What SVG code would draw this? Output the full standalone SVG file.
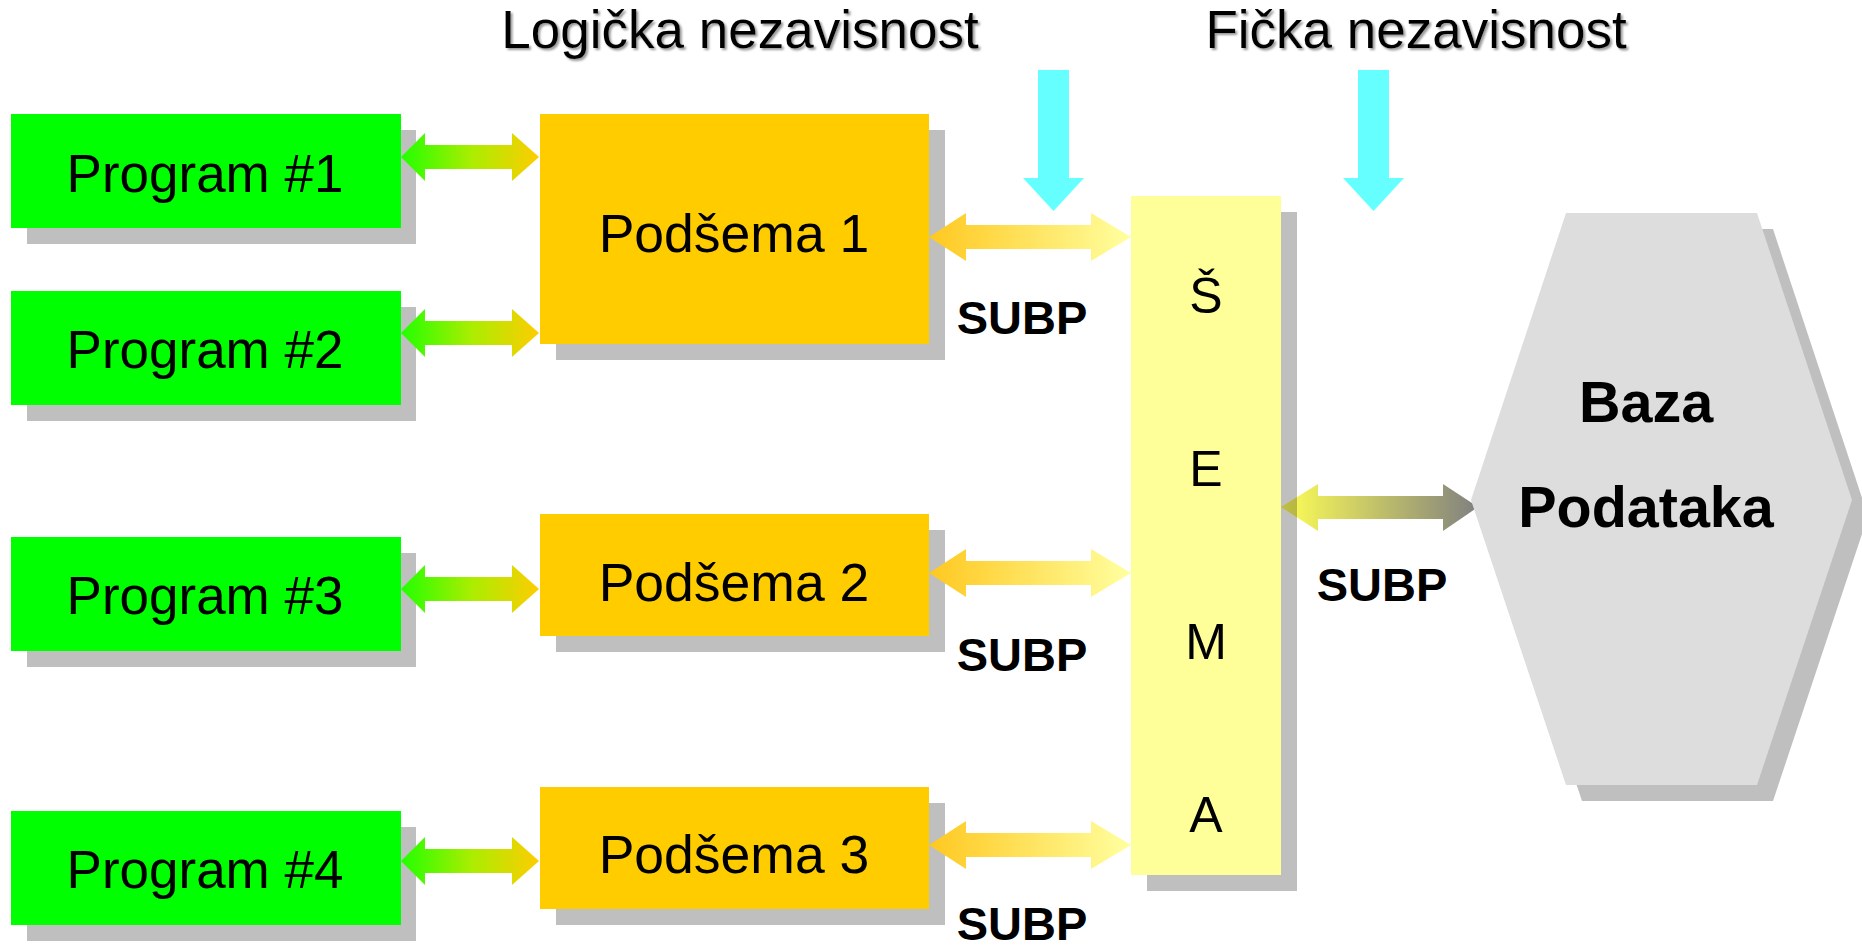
<svg xmlns="http://www.w3.org/2000/svg" width="1862" height="945" viewBox="0 0 1862 945">
<defs>
<linearGradient id="gGreen" x1="0" y1="0" x2="1" y2="0"><stop offset="0" stop-color="#22ff00"/><stop offset="0.5" stop-color="#a8ee00"/><stop offset="1" stop-color="#ffcc00"/></linearGradient>
<linearGradient id="gOrange" x1="0" y1="0" x2="1" y2="0"><stop offset="0" stop-color="#ffc820"/><stop offset="1" stop-color="#ffffa0"/></linearGradient>
<linearGradient id="gDb" x1="0" y1="0" x2="1" y2="0"><stop offset="0" stop-color="#ffff55"/><stop offset="1" stop-color="#808080"/></linearGradient>
<filter id="tshadow" x="-5%" y="-20%" width="110%" height="150%"><feDropShadow dx="2" dy="2" stdDeviation="1.2" flood-color="#808080" flood-opacity="0.8"/></filter>
<style>
.shadow{fill:#000;fill-opacity:0.25}
.prog{fill:#00ff00}
.pod{fill:#ffcc00}
.sema{fill:#ffff99}
.db{fill:#dddddd}
.cyan{fill:#66ffff}
.t{font-family:"Liberation Sans",Arial,sans-serif;fill:#000;text-anchor:middle}
.lbl{font-size:53px}
.pl{font-size:53.5px}
.b{font-size:47px;font-weight:bold}
.sl{font-size:50px}
.bz{font-size:57.5px;font-weight:bold}
.title{font-size:53px;filter:url(#tshadow)}
</style>
</defs>
<rect width="1862" height="945" fill="#fff"/>

<g id="title-logical"><text class="t title" x="740" y="48">Logička nezavisnost</text></g>
<g id="title-physical"><text class="t title" x="1416" y="48">Fička nezavisnost</text></g>

<g id="program1"><rect class="shadow" x="27" y="130" width="389" height="114"/><rect class="prog" x="11" y="114" width="390" height="114"/><text class="t lbl" x="205" y="192">Program #1</text></g>
<g id="program2"><rect class="shadow" x="27" y="307" width="389" height="114"/><rect class="prog" x="11" y="291" width="390" height="114"/><text class="t lbl" x="205" y="368">Program #2</text></g>
<g id="program3"><rect class="shadow" x="27" y="553" width="389" height="114"/><rect class="prog" x="11" y="537" width="390" height="114"/><text class="t lbl" x="205" y="614">Program #3</text></g>
<g id="program4"><rect class="shadow" x="27" y="827" width="389" height="114"/><rect class="prog" x="11" y="811" width="390" height="114"/><text class="t lbl" x="205" y="888">Program #4</text></g>

<g id="podsema1"><rect class="shadow" x="556" y="130" width="389" height="230"/><rect class="pod" x="540" y="114" width="389" height="230"/><text class="t pl" x="734" y="252">Podšema 1</text></g>
<g id="podsema2"><rect class="shadow" x="556" y="530" width="389" height="122"/><rect class="pod" x="540" y="514" width="389" height="122"/><text class="t pl" x="734" y="601">Podšema 2</text></g>
<g id="podsema3"><rect class="shadow" x="556" y="803" width="389" height="122"/><rect class="pod" x="540" y="787" width="389" height="122"/><text class="t pl" x="734" y="873">Podšema 3</text></g>

<g id="connectors">
<path fill="url(#gGreen)" d="M401,157 L425,133 L425,145 L512,145 L512,133 L539,157 L512,181 L512,169 L425,169 L425,181 Z"/>
<path fill="url(#gGreen)" d="M401,333 L425,309 L425,321 L512,321 L512,309 L539,333 L512,357 L512,345 L425,345 L425,357 Z"/>
<path fill="url(#gGreen)" d="M401,589 L425,565 L425,577 L512,577 L512,565 L539,589 L512,613 L512,601 L425,601 L425,613 Z"/>
<path fill="url(#gGreen)" d="M401,861 L425,837 L425,849 L512,849 L512,837 L539,861 L512,885 L512,873 L425,873 L425,885 Z"/>
<path fill="url(#gOrange)" d="M929,237 L966,213 L966,225 L1091,225 L1091,213 L1131,237 L1091,261 L1091,249 L966,249 L966,261 Z"/>
<path fill="url(#gOrange)" d="M929,573 L966,549 L966,561 L1091,561 L1091,549 L1131,573 L1091,597 L1091,585 L966,585 L966,597 Z"/>
<path fill="url(#gOrange)" d="M929,845 L966,821 L966,833 L1091,833 L1091,821 L1131,845 L1091,869 L1091,857 L966,857 L966,869 Z"/>
<path fill="url(#gDb)" d="M1281,507 L1318,484 L1318,496 L1443,496 L1443,484 L1478,507 L1443,531 L1443,519 L1318,519 L1318,531 Z"/>
<path class="cyan" d="M1038,70 L1069,70 L1069,178 L1084,178 L1053.5,211 L1023,178 L1038,178 Z"/>
<path class="cyan" d="M1358,70 L1389,70 L1389,178 L1404,178 L1373.5,211 L1343,178 L1358,178 Z"/>
</g>

<g id="subp-labels">
<text class="t b" x="1022" y="334">SUBP</text>
<text class="t b" x="1022" y="671">SUBP</text>
<text class="t b" x="1022" y="940">SUBP</text>
<text class="t b" x="1382" y="601">SUBP</text>
</g>

<g id="sema"><rect class="shadow" x="1147" y="212" width="150" height="679"/><rect class="sema" x="1131" y="196" width="150" height="679"/>
<text class="t sl" x="1206" y="313">Š</text>
<text class="t sl" x="1206" y="486">E</text>
<text class="t sl" x="1206" y="659">M</text>
<text class="t sl" x="1206" y="832">A</text>
</g>

<g id="baza"><polygon class="shadow" points="1582,229 1773,229 1868,516 1773,801 1582,801 1487,516"/><polygon class="db" points="1566,213 1757,213 1852,500 1757,785 1566,785 1471,500"/>
<text class="t bz" x="1646" y="422">Baza</text>
<text class="t bz" x="1646" y="527">Podataka</text>
</g>
</svg>
